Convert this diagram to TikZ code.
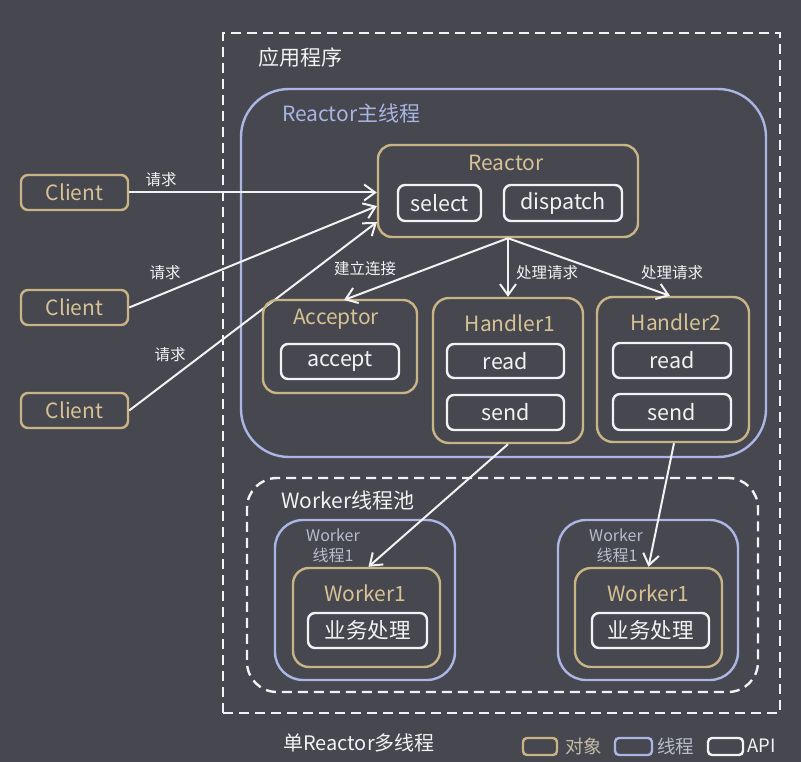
\documentclass[tikz,border=0pt]{standalone}
\usepackage{fontspec}
\setmainfont{Noto Sans CJK SC}
\usetikzlibrary{arrows.meta,calc}
\definecolor{bg}{RGB}{70,71,79}
\definecolor{gold}{RGB}{201,180,134}
\definecolor{goldtxt}{RGB}{214,194,148}
\definecolor{thr}{RGB}{172,182,228}
\definecolor{thrtxt}{RGB}{170,180,226}
\definecolor{wht}{RGB}{242,242,242}
\definecolor{lbl}{RGB}{184,188,204}
\definecolor{lgold}{RGB}{196,188,166}
\tikzset{
  bx/.style={draw, line width=2.4pt, inner sep=0pt},
  goldbox/.style={bx, draw=gold, rounded corners=14pt},
  apibox/.style={bx, draw=wht, rounded corners=7pt, text=wht, font=\fontsize{21.5}{23}\selectfont},
  clientbox/.style={bx, draw=gold, rounded corners=7pt, text=goldtxt, font=\fontsize{21}{23}\selectfont},
  thrbox/.style={bx, draw=thr, rounded corners=28pt},
  dbox/.style={bx, draw=wht, dash pattern=on 10pt off 6pt},
  ttl/.style={inner sep=0pt, text=goldtxt, font=\fontsize{21}{23}\selectfont},
  small/.style={inner sep=0pt, text=wht, font=\fontsize{15.5}{17}\selectfont},
  wlbl/.style={inner sep=0pt, text=lbl, font=\fontsize{16}{18}\selectfont},
  arr/.style={draw=wht, line width=2pt, -{Straight Barb[length=11pt,width=16pt,line width=2pt]}},
}
\begin{document}
\begin{tikzpicture}[x=1pt,y=-1pt]
\useasboundingbox[fill=bg] (0,0) rectangle (801,762);
% outer dashed
\node[dbox, minimum width=557, minimum height=680] (app) at (501.5,373) {};
\node[inner sep=0pt, text=wht, font=\fontsize{21}{23}\selectfont] (apptxt) at (300,58) {应用程序};
% reactor main thread
\node[thrbox, rounded corners=48pt, minimum width=525, minimum height=368] (main) at (503.5,273) {};
\node[inner sep=0pt, anchor=west, text=thrtxt, font=\fontsize{21}{23}\selectfont] (maintxt) at (282,113) {Reactor主线程};
% reactor
\node[goldbox, minimum width=260, minimum height=92] (reactor) at (508,191) {};
\node[ttl] (reactortxt) at (506,163) {Reactor};
\node[apibox, minimum width=83, minimum height=36] (select) at (439.5,203) {select};
\node[apibox, minimum width=118, minimum height=36] (dispatch) at (563,203) {dispatch};
% clients
\node[clientbox, minimum width=107, minimum height=35] (c1) at (74.5,192.5) {Client};
\node[clientbox, minimum width=107, minimum height=35] (c2) at (74.5,307.5) {Client};
\node[clientbox, minimum width=107, minimum height=35] (c3) at (74.5,410.5) {Client};
\coordinate (r2) at (377,206);
\coordinate (r3) at (377,222);
\draw[arr] (c1.east) -- (c1.east -| reactor.west);
\draw[arr] (c2.east) -- (r2);
\draw[arr] (c3.east) -- (r3);
\node[small] (q1) at (161,180) {请求};
\node[small] (q2) at (165,273) {请求};
\node[small] (q3) at (170,355) {请求};
% acceptor
\node[goldbox, minimum width=154, minimum height=93] (acceptor) at (340,346.5) {};
\node[ttl] (acctxt) at (336,319) {Acceptor};
\node[apibox, minimum width=118, minimum height=35] (accept) at (340,361.5) {accept};
% handler1
\node[goldbox, rounded corners=16pt, minimum width=150, minimum height=145] (h1) at (508,370.5) {};
\node[ttl] (h1txt) at (510,323) {Handler1};
\node[apibox, minimum width=117, minimum height=34] (read1) at (505.5,361) {read};
\node[apibox, minimum width=117, minimum height=35] (send1) at (505.5,412.5) {send};
% handler2
\node[goldbox, rounded corners=16pt, minimum width=152, minimum height=145] (h2) at (673,369.5) {};
\node[ttl] (h2txt) at (676,322) {Handler2};
\node[apibox, minimum width=118, minimum height=35] (read2) at (672,360.5) {read};
\node[apibox, minimum width=118, minimum height=36] (send2) at (672,412) {send};
% reactor arrows
\coordinate (accTop) at (344,300);
\draw[arr] (reactor.south) -- (accTop);
\draw[arr] (reactor.south) -- (h1.north);
\draw[arr] (reactor.south) -- ($(h2.north)+(-3,0)$);
\node[small] (l1) at (365,269) {建立连接};
\node[small] (l2) at (547,273) {处理请求};
\node[small] (l3) at (672,273) {处理请求};
% worker pool
\node[dbox, rounded corners=30pt, minimum width=511, minimum height=214] (pool) at (502.5,585) {};
\node[inner sep=0pt, anchor=west, text=wht, font=\fontsize{21}{23}\selectfont] (pooltxt) at (281,500) {Worker线程池};
% thread 1
\node[thrbox, minimum width=180, minimum height=160] (t1) at (365,600) {};
\node[wlbl] (t1a) at (333,535) {Worker};
\node[wlbl] (t1b) at (333,555) {线程1};
\node[goldbox, rounded corners=16pt, minimum width=147, minimum height=99] (w1) at (366.5,617.5) {};
\node[ttl] (w1txt) at (365,593) {Worker1};
\node[apibox, minimum width=119, minimum height=35] (biz1) at (367.5,630.5) {业务处理};
% thread 2
\node[thrbox, minimum width=180, minimum height=160] (t2) at (648,600) {};
\node[wlbl] (t2a) at (616,535) {Worker};
\node[wlbl] (t2b) at (617,555) {线程1};
\node[goldbox, rounded corners=16pt, minimum width=147, minimum height=99] (w2) at (648.5,617.5) {};
\node[ttl] (w2txt) at (648,593) {Worker1};
\node[apibox, minimum width=117, minimum height=35] (biz2) at (650.5,630.5) {业务处理};
% handler to worker arrows
\draw[arr] (h1.south) -- ($(w1.north)+(2,0)$);
\draw[arr] ($(h2.south)+(1,0)$) -- (w2.north);
% legend
\node[inner sep=0pt, anchor=west, text=wht, font=\fontsize{20}{22}\selectfont] (title) at (283,743) {单Reactor多线程};
\node[bx, draw=gold, rounded corners=4pt, minimum width=34, minimum height=17] (lg) at (540,746.5) {};
\node[inner sep=0pt, anchor=west, text=lgold, font=\fontsize{18.5}{20}\selectfont] (lgt) at (565,746) {对象};
\node[bx, draw=thr, rounded corners=4pt, minimum width=37, minimum height=17] (lb) at (633.5,746.5) {};
\node[inner sep=0pt, anchor=west, text=lbl, font=\fontsize{18.5}{20}\selectfont] (lbt) at (657,746) {线程};
\node[bx, draw=wht, rounded corners=4pt, minimum width=35, minimum height=17] (lw) at (725.5,746.5) {};
\node[inner sep=0pt, anchor=west, text=wht, font=\fontsize{18.5}{20}\selectfont] (lwt) at (747,746) {API};
\end{tikzpicture}
\end{document}
